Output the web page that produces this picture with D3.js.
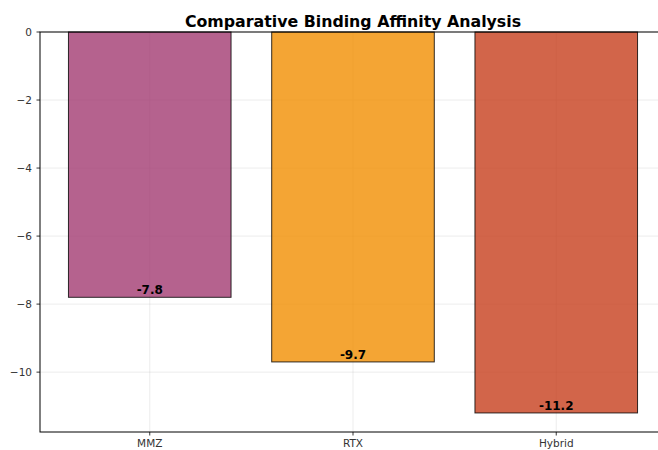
<!DOCTYPE html>
<html><head><meta charset="utf-8">
<script src="https://cdn.jsdelivr.net/npm/d3@7"></script>
<style>body{margin:0;background:#fff}svg{display:block}text{font-family:"DejaVu Sans",sans-serif}</style>
</head><body>
<svg id="c" width="658" height="450"></svg>
<script>
const categories = ["MMZ", "RTX", "Hybrid"];
const values = [-7.8, -9.7, -11.2];
const colors = ["#A23B72", "#F18F01", "#C73E1D"];
const yTicks = [0, -2, -4, -6, -8, -10];
const title = "Comparative Binding Affinity Analysis";

const svg = d3.select("#c");
const L = 40, R = 666, T = 32, B = 432;
const n = categories.length;
const x = d3.scaleLinear().domain([-0.54, n - 1 + 0.54]).range([L, R]);
const ymin = d3.min(values);
const y = d3.scaleLinear().domain([ymin * 1.05, 0]).range([B, T]);

// grid
const g = svg.append("g");
g.selectAll(".gy").data(yTicks).enter().append("line")
  .attr("x1", L).attr("x2", R).attr("y1", d => y(d)).attr("y2", d => y(d))
  .attr("stroke", "#b0b0b0").attr("stroke-opacity", 0.3).attr("stroke-width", 0.8);
g.selectAll(".gx").data(categories).enter().append("line")
  .attr("y1", T).attr("y2", B).attr("x1", (d, i) => x(i)).attr("x2", (d, i) => x(i))
  .attr("stroke", "#b0b0b0").attr("stroke-opacity", 0.3).attr("stroke-width", 0.8);

// bars
svg.selectAll(".bar").data(values).enter().append("rect")
  .attr("x", (d, i) => x(i - 0.4)).attr("width", x(0.4) - x(-0.4))
  .attr("y", y(0)).attr("height", d => y(d) - y(0))
  .attr("fill", (d, i) => colors[i]).attr("fill-opacity", 0.8)
  .attr("stroke", "#000").attr("stroke-opacity", 0.8).attr("stroke-width", 1);

// value labels
svg.selectAll(".lbl").data(values).enter().append("text")
  .attr("x", (d, i) => x(i)).attr("y", d => y(d) - 3)
  .attr("text-anchor", "middle").attr("font-size", 12).attr("font-weight", "bold")
  .attr("fill", "#000").text(d => d.toFixed(1));

// spines
svg.append("rect").attr("x", L).attr("y", T).attr("width", R - L).attr("height", B - T)
  .attr("fill", "none").attr("stroke", "#000").attr("stroke-width", 1);

// y axis ticks
const yt = svg.append("g");
yt.selectAll("line").data(yTicks).enter().append("line")
  .attr("x1", L - 3.5).attr("x2", L).attr("y1", d => y(d)).attr("y2", d => y(d))
  .attr("stroke", "#000").attr("stroke-width", 0.8);
yt.selectAll("text").data(yTicks).enter().append("text")
  .attr("x", L - 8).attr("y", d => y(d)).attr("dy", "0.35em")
  .attr("text-anchor", "end").attr("font-size", 10.5).attr("fill", "#333")
  .text(d => d < 0 ? "\u2212" + Math.abs(d) : String(d));

// x axis ticks
const xt = svg.append("g");
xt.selectAll("line").data(categories).enter().append("line")
  .attr("x1", (d, i) => x(i)).attr("x2", (d, i) => x(i)).attr("y1", B).attr("y2", B + 3.5)
  .attr("stroke", "#000").attr("stroke-width", 0.8);
xt.selectAll("text").data(categories).enter().append("text")
  .attr("x", (d, i) => x(i)).attr("y", B + 15)
  .attr("text-anchor", "middle").attr("font-size", 10.5).attr("fill", "#333").text(d => d);

// title
svg.append("text").attr("x", (L + R) / 2).attr("y", 26.5)
  .attr("text-anchor", "middle").attr("font-size", 15.8).attr("font-weight", "bold")
  .attr("fill", "#000").text(title);
</script>
</body></html>
